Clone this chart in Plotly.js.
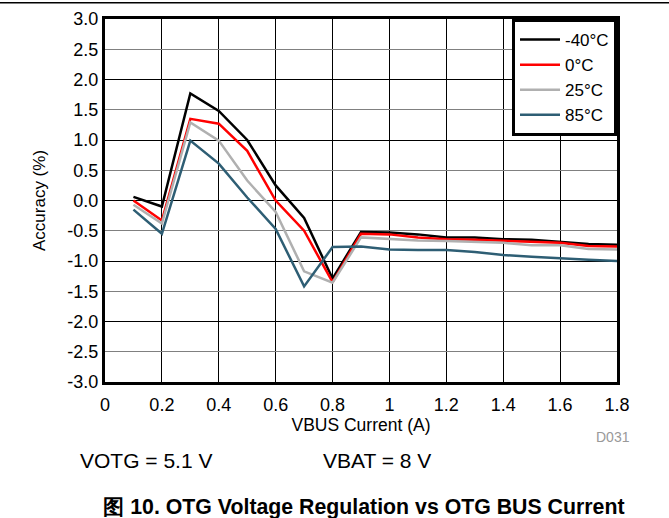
<!DOCTYPE html>
<html>
<head>
<meta charset="utf-8">
<script src="https://cdn.plot.ly/plotly-3.0.1.min.js"></script>
<style>html,body{margin:0;padding:0;background:#fff;}#chart{width:669px;height:518px;}</style>
</head>
<body>
<div id="chart"></div>
<script>
const current = [0.1,0.2,0.3,0.4,0.5,0.6,0.7,0.8,0.9,1.0,1.1,1.2,1.3,1.4,1.5,1.6,1.7,1.8];
const accM40 = [0.06,-0.10,1.77,1.48,1.00,0.25,-0.29,-1.29,-0.52,-0.53,-0.56,-0.61,-0.61,-0.64,-0.65,-0.68,-0.72,-0.73];
const acc0   = [0.00,-0.33,1.35,1.27,0.82,0.00,-0.50,-1.35,-0.55,-0.56,-0.61,-0.64,-0.65,-0.67,-0.69,-0.70,-0.75,-0.76];
const acc25  = [-0.07,-0.38,1.29,0.99,0.33,-0.19,-1.17,-1.36,-0.61,-0.64,-0.66,-0.67,-0.68,-0.70,-0.74,-0.74,-0.80,-0.81];
const acc85  = [-0.15,-0.55,0.99,0.61,0.05,-0.47,-1.42,-0.77,-0.76,-0.81,-0.82,-0.82,-0.85,-0.90,-0.93,-0.96,-0.98,-1.00];
const seriesNames = ['-40°C','0°C','25°C','85°C'];
const seriesColors = ['#000000','#ff0000','#b0b0b0','#2e5e74'];
const xTickVals = [0,0.2,0.4,0.6,0.8,1.0,1.2,1.4,1.6,1.8];
const xTickText = ['0','0.2','0.4','0.6','0.8','1','1.2','1.4','1.6','1.8'];
const yTickVals = [3,2.5,2,1.5,1,0.5,0,-0.5,-1,-1.5,-2,-2.5,-3];
const yTickText = ['3.0','2.5','2.0','1.5','1.0','0.5','0.0','-0.5','-1.0','-1.5','-2.0','-2.5','-3.0'];

const allY = [accM40, acc0, acc25, acc85];
const traces = allY.map((ys, i) => ({
  x: current, y: ys, type: 'scatter', mode: 'lines', name: seriesNames[i],
  line: {color: seriesColors[i], width: 2.5}
}));
// invisible helper trace for integer gridlines axis
traces.push({x: [0], y: [0], yaxis: 'y2', mode: 'markers', marker: {opacity: 0}, showlegend: false, hoverinfo: 'skip'});

const font = 'Arial, "Liberation Sans", sans-serif';
const layout = {
  width: 669, height: 518,
  margin: {l: 105, r: 52, t: 19, b: 136},
  paper_bgcolor: '#fff', plot_bgcolor: '#fff',
  font: {family: font, size: 18, color: '#000'},
  showlegend: true,
  legend: {x: 1, y: 1, xanchor: 'right', yanchor: 'top', bgcolor: '#fff',
           bordercolor: '#000', borderwidth: 3, font: {size: 17}, tracegroupgap: 0, itemwidth: 40},
  xaxis: {range: [0, 1.8], tickvals: xTickVals, ticktext: xTickText, showgrid: true,
          gridcolor: '#000', gridwidth: 1, showline: true, linecolor: '#000', linewidth: 3,
          mirror: true, zeroline: false, ticks: 'outside', ticklen: 4, tickcolor: 'rgba(0,0,0,0)', tickfont: {size: 18},
          title: {text: 'VBUS Current (A)', font: {size: 17.5}, standoff: 6}},
  yaxis: {range: [-3, 3], tickvals: yTickVals, ticktext: yTickText, showgrid: true,
          gridcolor: '#808080', gridwidth: 1, showline: true, linecolor: '#000', linewidth: 3,
          mirror: true, zeroline: false, ticks: '', tickfont: {size: 18},
          title: {text: 'Accuracy (%)', font: {size: 17}, standoff: 18}},
  yaxis2: {overlaying: 'y', range: [-3, 3], dtick: 1, showgrid: true, gridcolor: '#000',
           gridwidth: 1, showticklabels: false, zeroline: false, showline: false, ticks: ''},
  title: {text: '<b>图 10. OTG Voltage Regulation vs OTG BUS Current</b>',
          font: {size: 21.3, family: font}, x: 0.544, xanchor: 'center', y: 0.023, yanchor: 'middle', yref: 'container', xref: 'container'},
  annotations: [
    {text: 'VOTG = 5.1 V', xref: 'paper', yref: 'paper', x: -0.053, y: -0.215, xanchor: 'left', yanchor: 'middle', showarrow: false, font: {size: 21}},
    {text: 'VBAT = 8 V', xref: 'paper', yref: 'paper', x: 0.421, y: -0.215, xanchor: 'left', yanchor: 'middle', showarrow: false, font: {size: 21}},
    {text: 'D031', xref: 'paper', yref: 'paper', x: 1.029, y: -0.152, xanchor: 'right', yanchor: 'middle', showarrow: false, font: {size: 14, color: '#999'}}
  ],
  shapes: [
    {type: 'line', xref: 'paper', yref: 'paper', x0: -0.21, x1: 1.11, y0: 1.045, y1: 1.045, line: {color: '#000', width: 1.5}}
  ]
};
Plotly.newPlot('chart', traces, layout, {displayModeBar: false, staticPlot: true});
</script>
</body>
</html>
